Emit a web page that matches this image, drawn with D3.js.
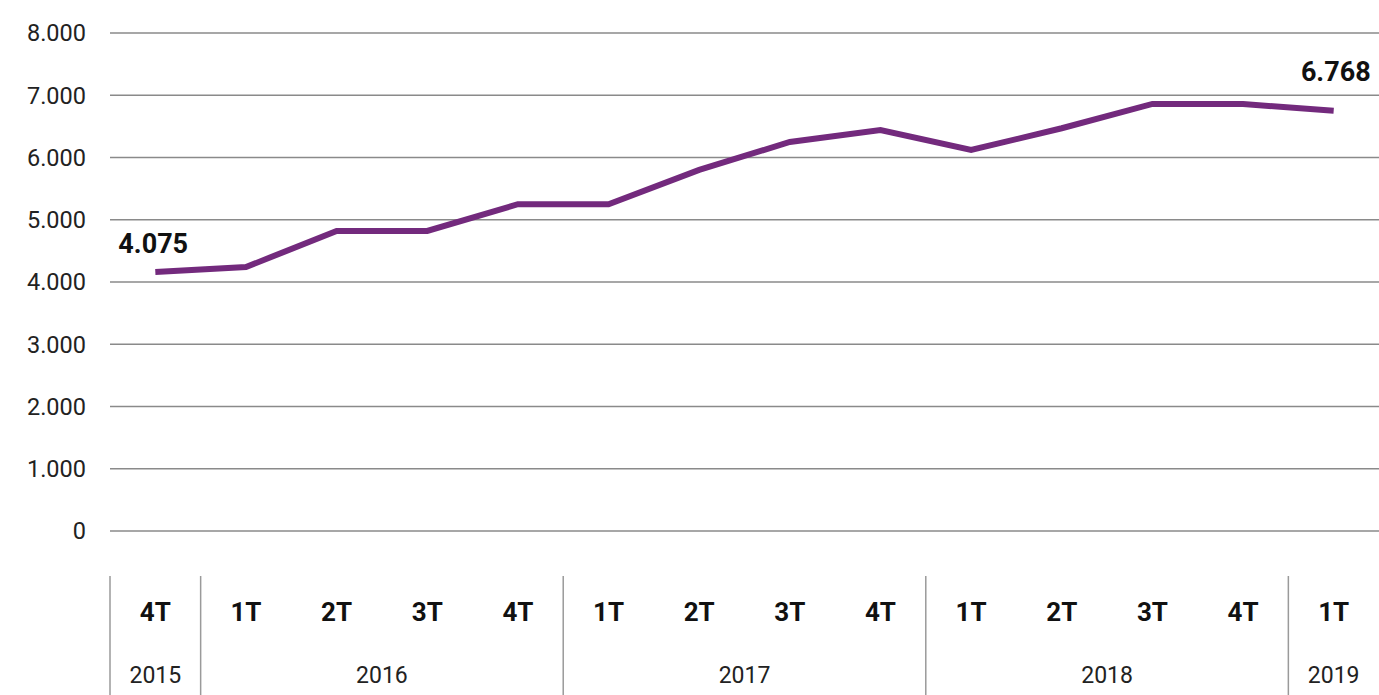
<!DOCTYPE html>
<meta charset="utf-8">
<style>
body { margin: 0; background: #fff; }
svg { font-family: Roboto, "DejaVu Sans", sans-serif; }
.grid line { stroke: #8a8a8a; stroke-width: 1.5; }
.ytick { font-size: 23.5px; fill: #222; }
.qtick { font-size: 26px; font-weight: bold; fill: #111; }
.year { font-size: 23px; fill: #222; }
.sep { stroke: #9a9a9a; stroke-width: 1.5; }
.line { fill: none; stroke: #732a7d; stroke-width: 6; stroke-linejoin: miter; }
.vlabel { font-size: 27px; font-weight: bold; fill: #111; }
</style>
<body>
<script src="https://d3js.org/d3.v7.min.js"></script>
<script>

var quarters = ['4T', '1T', '2T', '3T', '4T', '1T', '2T', '3T', '4T', '1T', '2T', '3T', '4T', '1T'];
var years = ['2015', '2016', '2016', '2016', '2016', '2017', '2017', '2017', '2017', '2018', '2018', '2018', '2018', '2019'];
var values = [4160, 4240, 4820, 4820, 5250, 5250, 5800, 6250, 6440, 6120, 6470, 6860, 6860, 6750];
var yTicks = [0, 1000, 2000, 3000, 4000, 5000, 6000, 7000, 8000];
var endLabels = ['4.075', '6.768'];

var width = 1379;
var height = 695;
var plotLeft = 110, plotRight = 1379, plotTop = 33, plotBottom = 531;

var svg = d3.select('body')
  .append('svg')
  .attr('width', width)
  .attr('height', height);

var keys = d3.range(quarters.length);

var x = d3.scaleBand()
  .domain(keys)
  .range([plotLeft, plotRight]);

var y = d3.scaleLinear()
  .domain([0, 8000])
  .range([plotBottom, plotTop]);

var fmt = function(d) { return d3.format(',')(d).replace(/,/g, '.'); };

// grid lines
svg.append('g')
  .attr('class', 'grid')
  .selectAll('line')
  .data(yTicks)
  .enter()
  .append('line')
  .attr('x1', plotLeft)
  .attr('x2', plotRight)
  .attr('y1', d => y(d))
  .attr('y2', d => y(d));

// y labels
svg.append('g')
  .selectAll('text')
  .data(yTicks)
  .enter()
  .append('text')
  .attr('class', 'ytick')
  .attr('x', 86)
  .attr('y', d => y(d))
  .attr('dy', '0.36em')
  .attr('text-anchor', 'end')
  .text(fmt);

// quarter labels
svg.append('g')
  .selectAll('text')
  .data(keys)
  .enter()
  .append('text')
  .attr('class', 'qtick')
  .attr('x', d => x(d) + x.bandwidth() / 2)
  .attr('y', 621)
  .attr('text-anchor', 'middle')
  .text(d => quarters[d]);

// year groups
var groups = d3.groups(keys, d => years[d]);
svg.append('g')
  .selectAll('text')
  .data(groups)
  .enter()
  .append('text')
  .attr('class', 'year')
  .attr('x', g => (x(g[1][0]) + x(g[1][g[1].length - 1]) + x.bandwidth()) / 2)
  .attr('y', 683)
  .attr('text-anchor', 'middle')
  .text(g => g[0]);

// separators
svg.append('g')
  .selectAll('line')
  .data(groups.map(g => x(g[1][0])))
  .enter()
  .append('line')
  .attr('class', 'sep')
  .attr('x1', d => d)
  .attr('x2', d => d)
  .attr('y1', 576)
  .attr('y2', height);

// the line
var line = d3.line()
  .x(d => x(d) + x.bandwidth() / 2)
  .y(d => y(values[d]));

svg.append('path')
  .attr('class', 'line')
  .attr('d', line(keys));

// first and last value labels
var last = keys.length - 1;
svg.append('text')
  .attr('class', 'vlabel')
  .attr('x', x(0) + x.bandwidth() / 2 - 37)
  .attr('y', y(values[0]) - 19)
  .text(endLabels[0]);

svg.append('text')
  .attr('class', 'vlabel')
  .attr('x', x(last) + x.bandwidth() / 2 + 37)
  .attr('y', y(values[last]) - 30)
  .attr('text-anchor', 'end')
  .text(endLabels[1]);

</script>
</body>
</html>
